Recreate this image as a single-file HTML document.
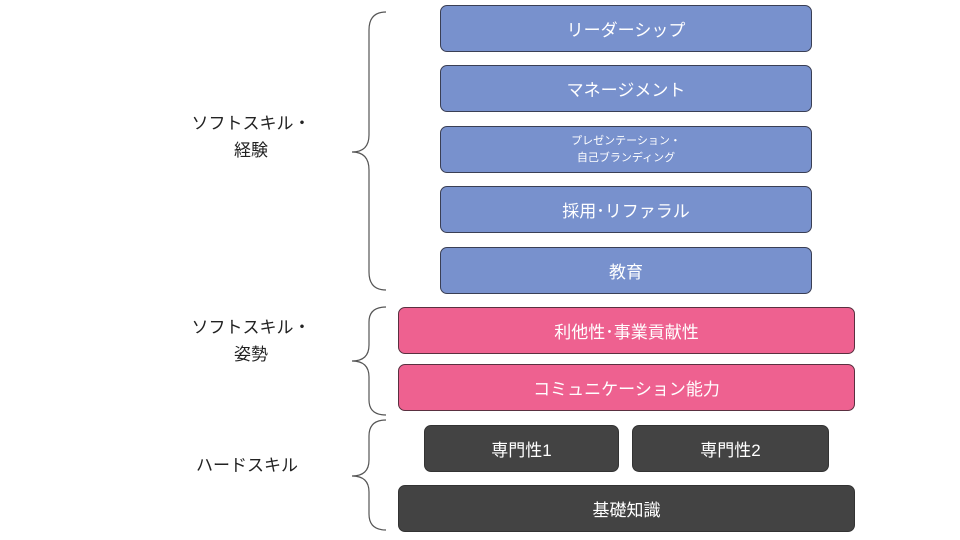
<html><head><style>
body{margin:0;width:960px;height:540px;background:#fff;position:relative;font-family:"Liberation Sans","Noto Sans CJK JP",sans-serif;overflow:hidden}
.b{position:absolute;box-sizing:border-box;border:1px solid #3a3f55;border-radius:7px;color:#fff;display:flex;align-items:center;justify-content:center;text-align:center;font-size:17px}
.bl{background:#7891cd;left:440px;width:372px;height:47px}
.pk{background:#ee6190;left:398px;width:457px;height:47px;border-color:#5a3040}
.dk{background:#434343;border-color:#333;height:47px}
.l{position:absolute;font-size:17px;color:#222;line-height:27px;left:191px;width:120px;text-align:center}
</style></head><body>
<div class="b bl" style="top:5px">リーダーシップ</div>
<div class="b bl" style="top:65px">マネージメント</div>
<div class="b bl" style="top:126px;font-size:11px;line-height:17px">プレゼンテーション・<br>自己ブランディング</div>
<div class="b bl" style="top:186px">採用･リファラル</div>
<div class="b bl" style="top:247px">教育</div>
<div class="b pk" style="top:307px">利他性･事業貢献性</div>
<div class="b pk" style="top:364px">コミュニケーション能力</div>
<div class="b dk" style="left:424px;width:195px;top:425px">専門性1</div>
<div class="b dk" style="left:632px;width:197px;top:425px">専門性2</div>
<div class="b dk" style="left:398px;width:457px;top:485px">基礎知識</div>
<div class="l" style="top:110px">ソフトスキル・<br>経験</div>
<div class="l" style="top:314px">ソフトスキル・<br>姿勢</div>
<div class="l" style="top:452px;left:187px">ハードスキル</div>
<svg width="960" height="540" style="position:absolute;left:0;top:0" fill="none" stroke="#555" stroke-width="1.2">
<path d="M386 12 Q369 12 369 30 L369 135 Q369 152 352 152 Q369 152 369 170 L369 272 Q369 290 386 290"/>
<path d="M386 307 Q369 307 369 322 L369 345 Q369 361 352 361 Q369 361 369 377 L369 400 Q369 415 386 415"/>
<path d="M386 420 Q369 420 369 436 L369 460 Q369 476 352 476 Q369 476 369 492 L369 514 Q369 530 386 530"/>
</svg>
</body></html>
